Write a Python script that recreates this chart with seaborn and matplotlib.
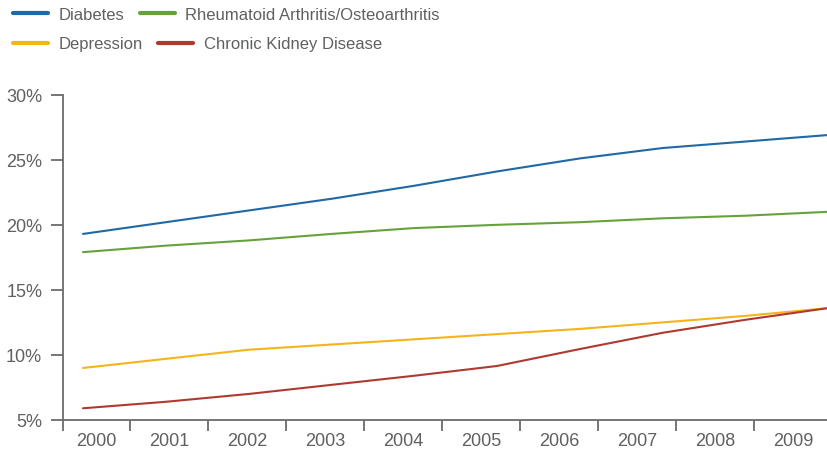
import matplotlib
matplotlib.use("Agg")
import matplotlib.pyplot as plt
from matplotlib.lines import Line2D
from matplotlib.ticker import FixedLocator, FuncFormatter
import numpy as np
import pandas as pd
import seaborn as sns

# ---- data (percent) ----
years = [2000, 2001, 2002, 2003, 2004, 2005, 2006, 2007, 2008, 2009]
diabetes = [19.3, 20.2, 21.1, 22.0, 23.0, 24.1, 25.1, 25.9, 26.4, 26.9]
rheumatoid = [17.9, 18.4, 18.8, 19.3, 19.75, 20.0, 20.2, 20.5, 20.7, 21.0]
depression = [9.0, 9.7, 10.4, 10.8, 11.2, 11.6, 12.0, 12.5, 13.0, 13.6]
kidney = [5.9, 6.4, 7.0, 7.7, 8.4, 9.15, 10.45, 11.7, 12.7, 13.6]
series_names = ["Diabetes", "Rheumatoid Arthritis/Osteoarthritis",
                "Depression", "Chronic Kidney Disease"]
year_labels = [str(y) for y in years]
y_ticks = [5, 10, 15, 20, 25, 30]

colors = {
    "Diabetes": "#1f69a6",
    "Rheumatoid Arthritis/Osteoarthritis": "#66a23c",
    "Depression": "#f4b41a",
    "Chronic Kidney Disease": "#ae3a2f",
}

df = pd.DataFrame({
    "year": years * 4,
    "value": diabetes + rheumatoid + depression + kidney,
    "series": sum([[n] * len(years) for n in series_names], []),
})

sns.set_style("white")
plt.rcParams["font.family"] = ["Liberation Sans", "DejaVu Sans"]

W, H = 828, 456
fig = plt.figure(figsize=(W / 100, H / 100), dpi=100)
left_px, right_px, top_px, bot_px = 63, 828, 95.7, 421
ax = fig.add_axes([left_px / W, 1 - bot_px / H,
                   (right_px - left_px) / W, (bot_px - top_px) / H])

sns.lineplot(data=df, x="year", y="value", hue="series", palette=colors,
             hue_order=series_names, linewidth=1.5, ax=ax, legend=False)

# x scale: first data point at pixel ~83, last at right edge
px_per_year = (828 - 83) / 9
x0 = years[0] - (83 - left_px) / px_per_year
ax.set_xlim(x0, years[-1])
ax.set_ylim(5, 30)

def px2x(px):
    return x0 + (px - left_px) / px_per_year

# category band boundaries (first band is narrower, as in the reference)
bound_px = [left_px] + [130 + 78 * k for k in range(9)] + [832]
bounds = [px2x(p) for p in bound_px[:-1]]
centers = [px2x((a + b) / 2) for a, b in zip(bound_px[:-1], bound_px[1:])]

gray = "#5f6062"
ax.xaxis.set_major_locator(FixedLocator(bounds))
ax.xaxis.set_major_formatter(FuncFormatter(lambda v, p: ""))
ax.set_xticks(centers, minor=True)
ax.set_xticklabels(year_labels, minor=True)
ax.tick_params(axis="x", which="major", direction="out", length=8,
               width=1.3, color="#6b6b6b", bottom=True)
ax.tick_params(axis="x", which="minor", length=0, pad=9,
               labelsize=13, labelcolor=gray)

ax.set_yticks(y_ticks)
ax.yaxis.set_major_formatter(FuncFormatter(lambda v, p: f"{v:.0f}%"))
ax.tick_params(axis="y", direction="out", length=9, width=1.3,
               color="#6b6b6b", left=True, pad=6, labelsize=13,
               labelcolor=gray)

for s in ["top", "right"]:
    ax.spines[s].set_visible(False)
for s in ["left", "bottom"]:
    ax.spines[s].set_color("#6b6b6b")
    ax.spines[s].set_linewidth(1.3)
ax.set_xlabel("")
ax.set_ylabel("")
ax.grid(False)

# legend: two rows, each laid out independently
def make_handles(names):
    return [Line2D([0], [0], color=colors[n], lw=3) for n in names]

rows = [(["Diabetes", "Rheumatoid Arthritis/Osteoarthritis"], 15),
        (["Depression", "Chronic Kidney Disease"], 45)]
for names, ypx in rows:
    leg = fig.legend(make_handles(names), names, loc="center left",
                     bbox_to_anchor=(13 / W, 1 - ypx / H), ncol=2,
                     frameon=False, borderpad=0, borderaxespad=0,
                     handlelength=2.1, handletextpad=0.65,
                     columnspacing=0.9, fontsize=12)
    for t in leg.get_texts():
        t.set_color(gray)

fig.savefig("out.png", dpi=100)
